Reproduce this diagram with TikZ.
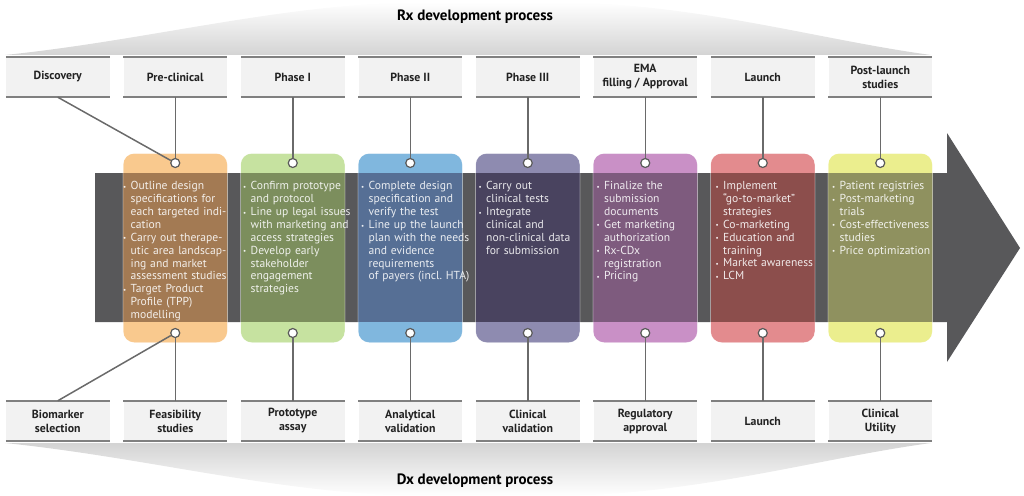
\documentclass[tikz,border=0pt]{standalone}
\usepackage{fontspec}
\usepackage{graphicx}
\setmainfont{PT Sans}
\definecolor{oL}{HTML}{F9C98E}\definecolor{oD}{HTML}{A37A53}
\definecolor{gL}{HTML}{C6E2A0}\definecolor{gD}{HTML}{7C8E5D}
\definecolor{bL}{HTML}{80B7DE}\definecolor{bD}{HTML}{566F95}
\definecolor{pL}{HTML}{8E8BB0}\definecolor{pD}{HTML}{49435F}
\definecolor{vL}{HTML}{C990C6}\definecolor{vD}{HTML}{7E5B7E}
\definecolor{rL}{HTML}{E38B8E}\definecolor{rD}{HTML}{8C4E4C}
\definecolor{yL}{HTML}{EBEE8E}\definecolor{yD}{HTML}{8F915F}
\definecolor{bandc}{HTML}{58585A}
\definecolor{lblfill}{HTML}{F2F2F2}
\definecolor{lblline}{HTML}{808080}
\definecolor{connline}{HTML}{6A6A6A}
\definecolor{dotline}{HTML}{5A5A5A}
\definecolor{lbltext}{HTML}{222222}
\newcommand\bul{\makebox[7.5pt][l]{\raisebox{0.5pt}{\scalebox{0.6}{\textbullet}}}}
\newcommand\ind{\hspace*{7.5pt}}
\begin{document}
\begin{tikzpicture}[x=1pt,y=-1pt,
  lbl/.style={fill=lblfill, minimum width=103.5pt, minimum height=40pt, inner sep=0pt, align=center,
    font=\fontsize{11.8}{14}\selectfont\bfseries, text=lbltext},
  lblrule/.style={draw=lblline, line width=2pt},
  card/.style={rounded corners=11pt, minimum width=104pt, minimum height=189pt, inner sep=0pt},
  dot/.style={circle, fill=white, draw=dotline, line width=1.2pt, minimum size=9pt, inner sep=0pt},
  conn/.style={draw=connline, line width=1.5pt},
  ctext/.style={anchor=north west, text width=140pt, align=left, inner sep=0pt,
    font=\fontsize{11.6}{12.85}\selectfont, text=white, text opacity=0.88},
  title/.style={font=\fontsize{15}{18}\selectfont\bfseries, text=black}
]
\useasboundingbox (0,0) rectangle (1024,495);
% banners
\shade[top color=white, bottom color=black!17]
  (5,55) .. controls (150,40) and (280,4) .. (420,2) -- (560,2) .. controls (700,4) and (820,40) .. (931,55) -- cycle;
\shade[top color=black!17, bottom color=white]
  (5,443) -- (931,443) .. controls (820,458) and (700,494) .. (560,496) -- (420,496) .. controls (280,494) and (150,458) .. cycle;
\node[title] (rx) at (475,17) {Rx development process};
\node[title] (dx) at (475,481) {Dx development process};
% band and arrow
\fill[bandc] (95,173) -- (947,173) -- (947,133) -- (1020,248) -- (947,362) -- (947,322) -- (95,322) -- cycle;
% cards
\foreach \i/\cn in {1/o,2/g,3/b,4/p,5/v,6/r,7/y} {
  \pgfmathsetmacro\cx{175.25+117.5*(\i-1)}
  \node[card, fill=\cn L] (k\i) at (\cx,248) {};
  \fill[\cn D] (\cx-52,173) rectangle (\cx+52,322);
  \draw[white, draw opacity=.4, line width=.7pt, rounded corners=11pt] (k\i.north west) rectangle (k\i.south east);
  \node[dot] (dt\i) at (\cx,163) {};
  \node[dot] (db\i) at (\cx,333) {};
}
% card texts
\node[ctext] (x1) at (123,181.5) {\bul Outline design\\\ind specifications for\\\ind each targeted indi-\\\ind cation\\
\bul Carry out therape-\\\ind utic area landscap-\\\ind ing and market\\\ind assessment studies\\
\bul Target Product\\\ind Profile (TPP)\\\ind modelling};
\node[ctext] (x2) at (243,181.5) {\bul Confirm prototype\\\ind and protocol\\
\bul Line up legal issues\\\ind with marketing and\\\ind access strategies\\
\bul Develop early\\\ind stakeholder\\\ind engagement\\\ind strategies};
\node[ctext] (x3) at (361,181.5) {\bul Complete design\\\ind specification and\\\ind verify the test\\
\bul Line up the launch\\\ind plan with the needs\\\ind and evidence\\\ind requirements\\\ind of payers (incl.~HTA)};
\node[ctext] (x4) at (478.5,181.5) {\bul Carry out\\\ind clinical tests\\
\bul Integrate\\\ind clinical and\\\ind non-clinical data\\\ind for submission};
\node[ctext] (x5) at (596.5,181.5) {\bul Finalize the\\\ind submission\\\ind documents\\
\bul Get marketing\\\ind authorization\\
\bul Rx-CDx\\\ind registration\\
\bul Pricing};
\node[ctext] (x6) at (715.5,181.5) {\bul Implement\\\ind “go-to-market”\\\ind strategies\\
\bul Co-marketing\\
\bul Education and\\\ind training\\
\bul Market awareness\\
\bul LCM};
\node[ctext] (x7) at (832,181.5) {\bul Patient registries\\
\bul Post-marketing\\\ind trials\\
\bul Cost-effectiveness\\\ind studies\\
\bul Price optimization};
% top labels
\node[lbl] (tl0) at (57.75,77) {Discovery};
\node[lbl] (tl1) at (175.25,77) {Pre-clinical};
\node[lbl] (tl2) at (292.75,77) {Phase I};
\node[lbl] (tl3) at (410.25,77) {Phase II};
\node[lbl] (tl4) at (527.75,77) {Phase III};
\node[lbl] (tl5) at (645.25,77) {EMA\\filling / Approval};
\node[lbl] (tl6) at (762.75,77) {Launch};
\node[lbl] (tl7) at (880.25,77) {Post-launch\\studies};
% bottom labels
\node[lbl] (bl0) at (57.75,421) {Biomarker\\selection};
\node[lbl] (bl1) at (175.25,421) {Feasibility\\studies};
\node[lbl] (bl2) at (292.75,421) {Prototype\\assay};
\node[lbl] (bl3) at (410.25,421) {Analytical\\validation};
\node[lbl] (bl4) at (527.75,421) {Clinical\\validation};
\node[lbl] (bl5) at (645.25,421) {Regulatory\\approval};
\node[lbl] (bl6) at (762.75,421) {Launch};
\node[lbl] (bl7) at (880.25,421) {Clinical\\Utility};
\foreach \n in {tl0,tl1,tl2,tl3,tl4,tl5,tl6,tl7,bl0,bl1,bl2,bl3,bl4,bl5,bl6,bl7}
  \draw[lblrule] (\n.north west) -- (\n.north east) (\n.south west) -- (\n.south east);
% connectors
\draw[conn] (tl0.south) -- (dt1);
\draw[conn] (bl0.north) -- (db1);
\foreach \i in {1,...,7} {
  \draw[conn] (tl\i.south) -- (dt\i);
  \draw[conn] (bl\i.north) -- (db\i);
}
\end{tikzpicture}
\end{document}
